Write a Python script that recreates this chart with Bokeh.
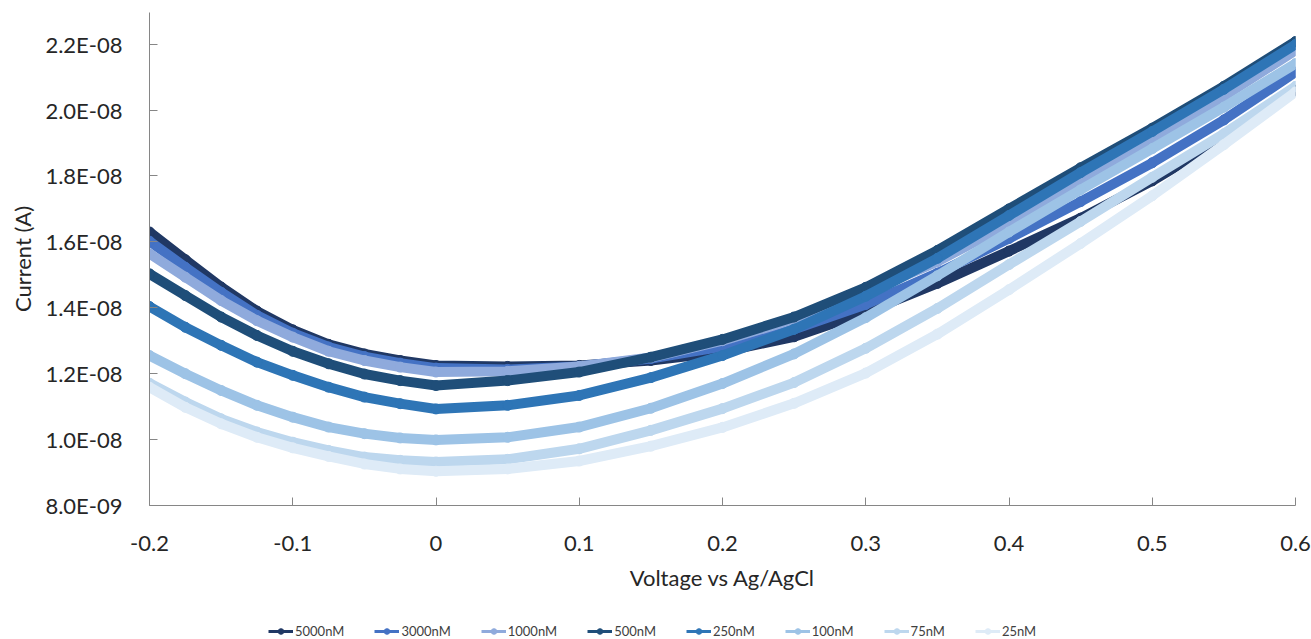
import numpy as np
from bokeh.plotting import figure
from bokeh.models import Range1d, FixedTicker, Legend, LegendItem
from bokeh.layouts import column
from bokeh.embed import file_html
from bokeh.resources import INLINE

# ---- data (voltage in V, current in units of 1e-9 A) ----
voltage = [-0.2, -0.175, -0.15, -0.125, -0.1, -0.075, -0.05, -0.025, 0.0,
           0.05, 0.1, 0.15, 0.2, 0.25, 0.3, 0.35, 0.4, 0.45, 0.5, 0.55, 0.6]

series_names = ["5000nM", "3000nM", "1000nM", "500nM", "250nM", "100nM", "75nM", "25nM"]
series_colors = ["#203864", "#4472C4", "#8FAADC", "#1F4E79", "#2E75B6", "#9DC3E6", "#BDD7EE", "#DEEBF7"]

i_5000 = [16.30, 15.46, 14.63, 13.90, 13.33, 12.89, 12.60, 12.40, 12.25,
          12.22, 12.25, 12.40, 12.66, 13.12, 13.86, 14.74, 15.72, 16.72, 17.85, 19.15, 20.60]
i_3000 = [16.02, 15.23, 14.47, 13.77, 13.23, 12.81, 12.52, 12.32, 12.17,
          12.13, 12.22, 12.46, 12.82, 13.35, 14.10, 15.05, 16.10, 17.22, 18.40, 19.70, 21.15]
i_1000 = [15.64, 14.93, 14.22, 13.61, 13.11, 12.68, 12.40, 12.20, 12.05,
          12.07, 12.22, 12.49, 13.00, 13.65, 14.46, 15.40, 16.55, 17.85, 19.10, 20.42, 21.81]
i_500 = [15.03, 14.37, 13.72, 13.16, 12.68, 12.30, 11.99, 11.79, 11.64,
         11.79, 12.05, 12.50, 13.04, 13.72, 14.62, 15.74, 17.00, 18.25, 19.45, 20.72, 22.08]
i_250 = [14.04, 13.41, 12.86, 12.35, 11.95, 11.59, 11.29, 11.09, 10.93,
         11.04, 11.34, 11.88, 12.55, 13.35, 14.35, 15.50, 16.80, 18.10, 19.35, 20.63, 21.99]
i_100 = [12.55, 12.00, 11.49, 11.04, 10.68, 10.38, 10.18, 10.05, 9.99,
         10.07, 10.38, 10.95, 11.70, 12.60, 13.70, 14.97, 16.30, 17.58, 18.83, 20.09, 21.41]
i_75 = [11.71, 11.14, 10.63, 10.23, 9.92, 9.67, 9.47, 9.37, 9.32,
        9.40, 9.72, 10.28, 10.94, 11.73, 12.77, 13.98, 15.31, 16.62, 17.96, 19.28, 20.72]
i_25 = [11.59, 10.98, 10.48, 10.07, 9.75, 9.49, 9.26, 9.11, 9.04,
        9.11, 9.35, 9.80, 10.37, 11.10, 12.02, 13.20, 14.55, 15.95, 17.40, 18.95, 20.55]

series_values = [i_5000, i_3000, i_1000, i_500, i_250, i_100, i_75, i_25]

x_ticks = [-0.2, -0.1, 0.0, 0.1, 0.2, 0.3, 0.4, 0.5, 0.6]
x_tick_labels = ["-0.2", "-0.1", "0", "0.1", "0.2", "0.3", "0.4", "0.5", "0.6"]
y_ticks_nA = [8, 10, 12, 14, 16, 18, 20, 22]
y_tick_labels = ["8.0E-09", "1.0E-08", "1.2E-08", "1.4E-08", "1.6E-08", "1.8E-08", "2.0E-08", "2.2E-08"]

SCALE = 1e-9
FONT = "Lato"
TEXT_COLOR = "#262626"
AXIS_COLOR = "#868686"

p = figure(width=1311, height=610, output_backend="svg", toolbar_location=None,
           x_range=Range1d(-0.2, 0.6), y_range=Range1d(8e-9, 2.296e-8),
           min_border_left=149, min_border_right=16, min_border_top=12, min_border_bottom=105)
p.outline_line_color = None
p.xgrid.visible = False
p.ygrid.visible = False
p.background_fill_color = "white"
p.border_fill_color = "white"

for name, color, vals in zip(series_names, series_colors, series_values):
    y = np.array(vals) * SCALE
    p.line(voltage, y, line_color=color, line_width=10, line_cap="round", line_join="round")
    p.scatter(voltage, y, marker="circle", size=10, fill_color=color, line_color=color)

# axes
p.xaxis.ticker = FixedTicker(ticks=x_ticks)
p.xaxis.major_label_overrides = {t: l for t, l in zip(x_ticks, x_tick_labels)}
yt = [v * SCALE for v in y_ticks_nA]
p.yaxis.ticker = FixedTicker(ticks=yt)
p.yaxis.major_label_overrides = {t: l for t, l in zip(yt, y_tick_labels)}

for ax in (p.xaxis[0], p.yaxis[0]):
    ax.axis_line_color = AXIS_COLOR
    ax.major_tick_line_color = AXIS_COLOR
    ax.minor_tick_line_color = None
    ax.major_tick_out = 0
    ax.major_tick_in = 8
    ax.major_label_text_font = FONT
    ax.major_label_text_font_size = "22px"
    ax.major_label_text_color = TEXT_COLOR
    ax.axis_label_text_font = FONT
    ax.axis_label_text_font_size = "22px"
    ax.axis_label_text_font_style = "normal"
    ax.axis_label_text_color = TEXT_COLOR

p.xaxis.axis_label = "Voltage vs Ag/AgCl"
p.yaxis.axis_label = "Current (A)"
p.xaxis.major_label_standoff = 30
p.yaxis.major_label_standoff = 27
p.xaxis.axis_label_standoff = 10
p.yaxis.axis_label_standoff = 6

# ---- legend strip below the chart (same series, drawn off-range so only the legend shows) ----
leg = figure(width=1311, height=29, output_backend="svg", toolbar_location=None,
             x_range=Range1d(-0.2, 0.6), y_range=Range1d(1.0, 2.0),
             x_axis_type=None, y_axis_type=None,
             min_border_left=0, min_border_right=0, min_border_top=0, min_border_bottom=0)
leg.outline_line_color = None
leg.xgrid.visible = False
leg.ygrid.visible = False

items = []
for name, color, vals in zip(series_names, series_colors, series_values):
    y = np.array(vals) * SCALE
    r1 = leg.line(voltage, y, line_color=color, line_width=3)
    r2 = leg.scatter(voltage, y, marker="circle", size=8, fill_color=color, line_color=color)
    items.append(LegendItem(label=name, renderers=[r1, r2]))

legend = Legend(items=items, orientation="horizontal", location=(119, 0),
                label_text_font=FONT, label_text_font_size="13px", label_text_color="#404040",
                glyph_width=25, glyph_height=14, label_standoff=2, spacing=30,
                padding=0, margin=0, border_line_color=None, background_fill_alpha=0)
leg.add_layout(legend, "center")

layout = column(p, leg, spacing=0)
open("out.html", "w").write(file_html(layout, INLINE))
